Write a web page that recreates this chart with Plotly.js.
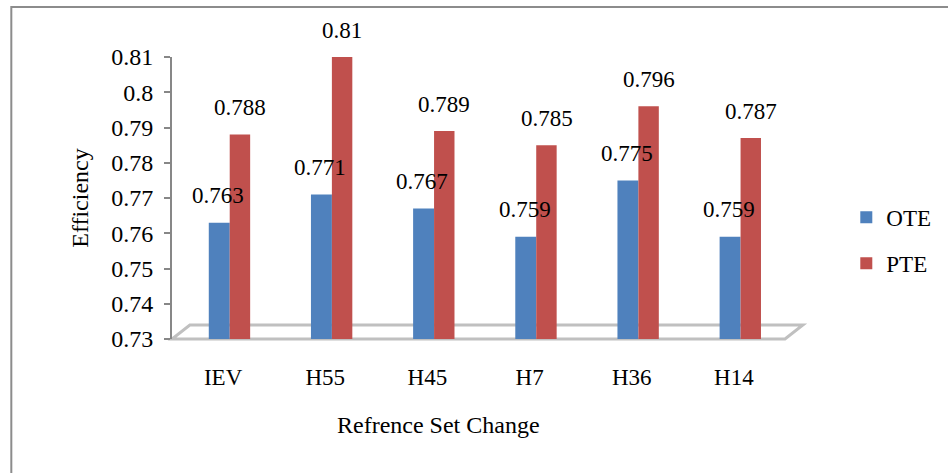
<!DOCTYPE html>
<html>
<head>
<meta charset="utf-8">
<script src="https://cdn.plot.ly/plotly-3.0.1.min.js"></script>
<style>
html,body{margin:0;padding:0;background:#fff;}
#chart{width:948px;height:473px;}
</style>
</head>
<body>
<div id="chart"></div>
<script>
const categories = ["IEV", "H55", "H45", "H7", "H36", "H14"];
const oteValues = [0.763, 0.771, 0.767, 0.759, 0.775, 0.759];
const pteValues = [0.788, 0.81, 0.789, 0.785, 0.796, 0.787];
const seriesNames = ["OTE", "PTE"];
const yTicks = [0.73, 0.74, 0.75, 0.76, 0.77, 0.78, 0.79, 0.8, 0.81];
const axisBase = 0.73;

const serif = "Liberation Serif, Times New Roman, serif";
const blue = "#4f81bd";
const red = "#c0504d";

const traces = [
  {
    type: "bar", name: seriesNames[0], x: categories, y: oteValues.map(v => v - axisBase),
    base: axisBase, marker: {color: blue}, width: 0.205, offset: -0.14,
    legendgroup: "a", hoverinfo: "x+y"
  },
  {
    type: "bar", name: seriesNames[1], x: categories, y: pteValues.map(v => v - axisBase),
    base: axisBase, marker: {color: red}, width: 0.2, offset: 0.065,
    legendgroup: "b", hoverinfo: "x+y"
  }
];

const annotations = [];
categories.forEach((c, i) => {
  annotations.push({x: c, y: oteValues[i], xref: "x", yref: "y", text: String(oteValues[i]),
    showarrow: false, xshift: -5, yshift: 27, yanchor: "middle",
    font: {family: serif, size: 23, color: "#000"}});
  annotations.push({x: c, y: pteValues[i], xref: "x", yref: "y", text: String(pteValues[i]),
    showarrow: false, xshift: 17, yshift: 27, yanchor: "middle",
    font: {family: serif, size: 23, color: "#000"}});
});

const pw = 618, ph = 282;
annotations.push({
  xref: "paper", yref: "paper", x: (441 - 172) / pw, y: (339 - 425) / ph,
  xanchor: "center", yanchor: "middle", showarrow: false,
  text: "Refrence Set Change", font: {family: serif, size: 24, color: "#000"}
});

const layout = {
  width: 948, height: 473,
  margin: {l: 172, r: 158, t: 57, b: 134},
  paper_bgcolor: "#fff", plot_bgcolor: "rgba(0,0,0,0)",
  barmode: "overlay",
  showlegend: true,
  legend: {
    x: 1.1, xanchor: "left", y: 0.35, yanchor: "middle",
    font: {family: serif, size: 23, color: "#000"},
    traceorder: "grouped", tracegroupgap: 13,
    bgcolor: "rgba(0,0,0,0)"
  },
  xaxis: {
    type: "category", range: [-0.5, 5.5],
    showgrid: false, zeroline: false, showline: false, ticks: "",
    tickfont: {family: serif, size: 23, color: "#000"},
    ticklabelstandoff: 22
  },
  yaxis: {
    range: [0.73, 0.81], tickvals: yTicks, ticktext: yTicks.map(String),
    showgrid: false, zeroline: false, showline: true, linecolor: "#878787", linewidth: 2,
    ticks: "outside", ticklen: 6, tickcolor: "#878787", tickwidth: 2,
    tickfont: {family: serif, size: 24, color: "#000"},
    ticklabelstandoff: 6,
    title: {text: "Efficiency", font: {family: serif, size: 24, color: "#000"}, standoff: 16}
  },
  annotations: annotations,
  shapes: [
    {
      type: "path", xref: "paper", yref: "paper", layer: "below",
      path: `M 0 0 L 1 0 L ${1 + 18 / pw} ${14 / ph} L ${18 / pw} ${14 / ph} Z`,
      line: {color: "#c0c0c0", width: 3}, fillcolor: "rgba(0,0,0,0)"
    },
    {
      type: "rect", xref: "paper", yref: "paper", layer: "below",
      x0: (10 - 172) / pw, x1: (1000 - 172) / pw,
      y0: (339 - 520) / ph, y1: 1 + (57 - 7) / ph,
      line: {color: "#8c8c8c", width: 2}, fillcolor: "rgba(0,0,0,0)"
    }
  ]
};

Plotly.newPlot("chart", traces, layout, {displayModeBar: false, staticPlot: true});
</script>
</body>
</html>
